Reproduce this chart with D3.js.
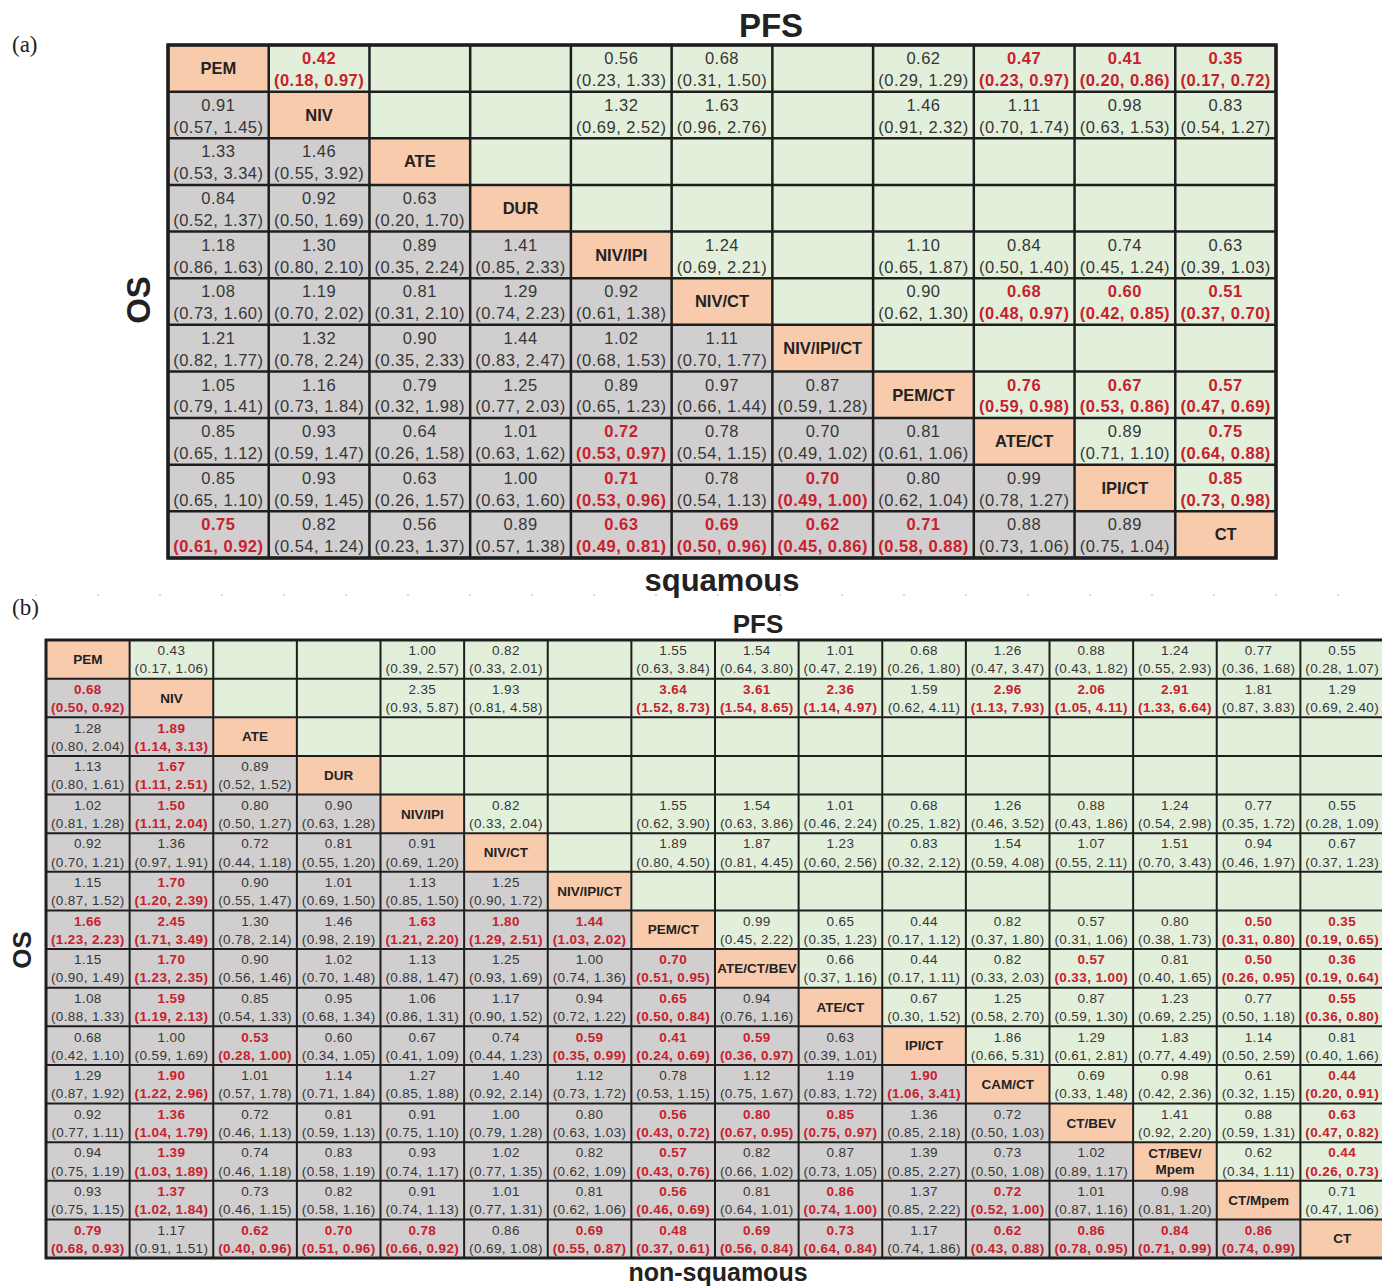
<!DOCTYPE html>
<html>
<head>
<meta charset="utf-8">
<script src="https://cdn.jsdelivr.net/npm/d3@7"></script>
<style>
body { margin: 0; background: #fff; }
svg text { font-family: "Liberation Sans", Arial, sans-serif; }
</style>
</head>
<body>
<div id="chart"></div>
<script>
// ---- panel (a): squamous ----
var treatA = ["PEM", "NIV", "ATE", "DUR", "NIV/IPI", "NIV/CT", "NIV/IPI/CT", "PEM/CT", "ATE/CT", "IPI/CT", "CT"];

// upper triangle, row i holds columns i+1 .. n-1  ([HR, low, high] or null)
var pfsA = [
  [[0.42,0.18,0.97], null, null, [0.56,0.23,1.33], [0.68,0.31,1.50], null, [0.62,0.29,1.29], [0.47,0.23,0.97], [0.41,0.20,0.86], [0.35,0.17,0.72]],
  [null, null, [1.32,0.69,2.52], [1.63,0.96,2.76], null, [1.46,0.91,2.32], [1.11,0.70,1.74], [0.98,0.63,1.53], [0.83,0.54,1.27]],
  [],
  [],
  [[1.24,0.69,2.21], null, [1.10,0.65,1.87], [0.84,0.50,1.40], [0.74,0.45,1.24], [0.63,0.39,1.03]],
  [null, [0.90,0.62,1.30], [0.68,0.48,0.97], [0.60,0.42,0.85], [0.51,0.37,0.70]],
  [],
  [[0.76,0.59,0.98], [0.67,0.53,0.86], [0.57,0.47,0.69]],
  [[0.89,0.71,1.10], [0.75,0.64,0.88]],
  [[0.85,0.73,0.98]]
];

// lower triangle, row i holds columns 0 .. i-1
var osA = [
  [],
  [[0.91,0.57,1.45]],
  [[1.33,0.53,3.34], [1.46,0.55,3.92]],
  [[0.84,0.52,1.37], [0.92,0.50,1.69], [0.63,0.20,1.70]],
  [[1.18,0.86,1.63], [1.30,0.80,2.10], [0.89,0.35,2.24], [1.41,0.85,2.33]],
  [[1.08,0.73,1.60], [1.19,0.70,2.02], [0.81,0.31,2.10], [1.29,0.74,2.23], [0.92,0.61,1.38]],
  [[1.21,0.82,1.77], [1.32,0.78,2.24], [0.90,0.35,2.33], [1.44,0.83,2.47], [1.02,0.68,1.53], [1.11,0.70,1.77]],
  [[1.05,0.79,1.41], [1.16,0.73,1.84], [0.79,0.32,1.98], [1.25,0.77,2.03], [0.89,0.65,1.23], [0.97,0.66,1.44], [0.87,0.59,1.28]],
  [[0.85,0.65,1.12], [0.93,0.59,1.47], [0.64,0.26,1.58], [1.01,0.63,1.62], [0.72,0.53,0.97], [0.78,0.54,1.15], [0.70,0.49,1.02], [0.81,0.61,1.06]],
  [[0.85,0.65,1.10], [0.93,0.59,1.45], [0.63,0.26,1.57], [1.00,0.63,1.60], [0.71,0.53,0.96], [0.78,0.54,1.13], [0.70,0.49,1.00], [0.80,0.62,1.04], [0.99,0.78,1.27]],
  [[0.75,0.61,0.92], [0.82,0.54,1.24], [0.56,0.23,1.37], [0.89,0.57,1.38], [0.63,0.49,0.81], [0.69,0.50,0.96], [0.62,0.45,0.86], [0.71,0.58,0.88], [0.88,0.73,1.06], [0.89,0.75,1.04]]
];

// ---- panel (b): non-squamous ----
var treatB = ["PEM", "NIV", "ATE", "DUR", "NIV/IPI", "NIV/CT", "NIV/IPI/CT", "PEM/CT", "ATE/CT/BEV", "ATE/CT", "IPI/CT", "CAM/CT", "CT/BEV", "CT/BEV/Mpem", "CT/Mpem", "CT"];

var pfsB = [
  [[0.43,0.17,1.06], null, null, [1.00,0.39,2.57], [0.82,0.33,2.01], null, [1.55,0.63,3.84], [1.54,0.64,3.80], [1.01,0.47,2.19], [0.68,0.26,1.80], [1.26,0.47,3.47], [0.88,0.43,1.82], [1.24,0.55,2.93], [0.77,0.36,1.68], [0.55,0.28,1.07]],
  [null, null, [2.35,0.93,5.87], [1.93,0.81,4.58], null, [3.64,1.52,8.73], [3.61,1.54,8.65], [2.36,1.14,4.97], [1.59,0.62,4.11], [2.96,1.13,7.93], [2.06,1.05,4.11], [2.91,1.33,6.64], [1.81,0.87,3.83], [1.29,0.69,2.40]],
  [],
  [],
  [[0.82,0.33,2.04], null, [1.55,0.62,3.90], [1.54,0.63,3.86], [1.01,0.46,2.24], [0.68,0.25,1.82], [1.26,0.46,3.52], [0.88,0.43,1.86], [1.24,0.54,2.98], [0.77,0.35,1.72], [0.55,0.28,1.09]],
  [null, [1.89,0.80,4.50], [1.87,0.81,4.45], [1.23,0.60,2.56], [0.83,0.32,2.12], [1.54,0.59,4.08], [1.07,0.55,2.11], [1.51,0.70,3.43], [0.94,0.46,1.97], [0.67,0.37,1.23]],
  [],
  [[0.99,0.45,2.22], [0.65,0.35,1.23], [0.44,0.17,1.12], [0.82,0.37,1.80], [0.57,0.31,1.06], [0.80,0.38,1.73], [0.50,0.31,0.80], [0.35,0.19,0.65]],
  [[0.66,0.37,1.16], [0.44,0.17,1.11], [0.82,0.33,2.03], [0.57,0.33,1.00], [0.81,0.40,1.65], [0.50,0.26,0.95], [0.36,0.19,0.64]],
  [[0.67,0.30,1.52], [1.25,0.58,2.70], [0.87,0.59,1.30], [1.23,0.69,2.25], [0.77,0.50,1.18], [0.55,0.36,0.80]],
  [[1.86,0.66,5.31], [1.29,0.61,2.81], [1.83,0.77,4.49], [1.14,0.50,2.59], [0.81,0.40,1.66]],
  [[0.69,0.33,1.48], [0.98,0.42,2.36], [0.61,0.32,1.15], [0.44,0.20,0.91]],
  [[1.41,0.92,2.20], [0.88,0.59,1.31], [0.63,0.47,0.82]],
  [[0.62,0.34,1.11], [0.44,0.26,0.73]],
  [[0.71,0.47,1.06]]
];

var osB = [
  [],
  [[0.68,0.50,0.92]],
  [[1.28,0.80,2.04], [1.89,1.14,3.13]],
  [[1.13,0.80,1.61], [1.67,1.11,2.51], [0.89,0.52,1.52]],
  [[1.02,0.81,1.28], [1.50,1.11,2.04], [0.80,0.50,1.27], [0.90,0.63,1.28]],
  [[0.92,0.70,1.21], [1.36,0.97,1.91], [0.72,0.44,1.18], [0.81,0.55,1.20], [0.91,0.69,1.20]],
  [[1.15,0.87,1.52], [1.70,1.20,2.39], [0.90,0.55,1.47], [1.01,0.69,1.50], [1.13,0.85,1.50], [1.25,0.90,1.72]],
  [[1.66,1.23,2.23], [2.45,1.71,3.49], [1.30,0.78,2.14], [1.46,0.98,2.19], [1.63,1.21,2.20], [1.80,1.29,2.51], [1.44,1.03,2.02]],
  [[1.15,0.90,1.49], [1.70,1.23,2.35], [0.90,0.56,1.46], [1.02,0.70,1.48], [1.13,0.88,1.47], [1.25,0.93,1.69], [1.00,0.74,1.36], [0.70,0.51,0.95]],
  [[1.08,0.88,1.33], [1.59,1.19,2.13], [0.85,0.54,1.33], [0.95,0.68,1.34], [1.06,0.86,1.31], [1.17,0.90,1.52], [0.94,0.72,1.22], [0.65,0.50,0.84], [0.94,0.76,1.16]],
  [[0.68,0.42,1.10], [1.00,0.59,1.69], [0.53,0.28,1.00], [0.60,0.34,1.05], [0.67,0.41,1.09], [0.74,0.44,1.23], [0.59,0.35,0.99], [0.41,0.24,0.69], [0.59,0.36,0.97], [0.63,0.39,1.01]],
  [[1.29,0.87,1.92], [1.90,1.22,2.96], [1.01,0.57,1.78], [1.14,0.71,1.84], [1.27,0.85,1.88], [1.40,0.92,2.14], [1.12,0.73,1.72], [0.78,0.53,1.15], [1.12,0.75,1.67], [1.19,0.83,1.72], [1.90,1.06,3.41]],
  [[0.92,0.77,1.11], [1.36,1.04,1.79], [0.72,0.46,1.13], [0.81,0.59,1.13], [0.91,0.75,1.10], [1.00,0.79,1.28], [0.80,0.63,1.03], [0.56,0.43,0.72], [0.80,0.67,0.95], [0.85,0.75,0.97], [1.36,0.85,2.18], [0.72,0.50,1.03]],
  [[0.94,0.75,1.19], [1.39,1.03,1.89], [0.74,0.46,1.18], [0.83,0.58,1.19], [0.93,0.74,1.17], [1.02,0.77,1.35], [0.82,0.62,1.09], [0.57,0.43,0.76], [0.82,0.66,1.02], [0.87,0.73,1.05], [1.39,0.85,2.27], [0.73,0.50,1.08], [1.02,0.89,1.17]],
  [[0.93,0.75,1.15], [1.37,1.02,1.84], [0.73,0.46,1.15], [0.82,0.58,1.16], [0.91,0.74,1.13], [1.01,0.77,1.31], [0.81,0.62,1.06], [0.56,0.46,0.69], [0.81,0.64,1.01], [0.86,0.74,1.00], [1.37,0.85,2.22], [0.72,0.52,1.00], [1.01,0.87,1.16], [0.98,0.81,1.20]],
  [[0.79,0.68,0.93], [1.17,0.91,1.51], [0.62,0.40,0.96], [0.70,0.51,0.96], [0.78,0.66,0.92], [0.86,0.69,1.08], [0.69,0.55,0.87], [0.48,0.37,0.61], [0.69,0.56,0.84], [0.73,0.64,0.84], [1.17,0.74,1.86], [0.62,0.43,0.88], [0.86,0.78,0.95], [0.84,0.71,0.99], [0.86,0.74,0.99]]
];

var W = 1382, H = 1288;
var fmt = d3.format(".2f");
var fills = { diag: "#f8cbad", pfs: "#e2efda", os: "#d0cece" };
var red = "#c8202c", grey = "#363636";

var svg = d3.select("#chart").append("svg")
    .attr("width", W)
    .attr("height", H);

function drawTable(cfg) {
    var n = cfg.treat.length;
    var x = d3.scaleBand().domain(d3.range(n)).range([cfg.x0, cfg.x1]);
    var y = d3.scaleBand().domain(d3.range(n)).range([cfg.y0, cfg.y1]);

    var cells = [];
    for (var i = 0; i < n; i++) {
        for (var j = 0; j < n; j++) {
            var c = { r: i, c: j, v: null };
            if (i === j) { c.type = "diag"; c.label = cfg.treat[i]; }
            else if (j > i) { c.type = "pfs"; c.v = (cfg.pfs[i] || [])[j - i - 1] || null; }
            else { c.type = "os"; c.v = (cfg.os[i] || [])[j] || null; }
            cells.push(c);
        }
    }

    var g = svg.append("g");
    g.selectAll("rect.cell").data(cells).join("rect")
        .attr("class", "cell")
        .attr("x", d => x(d.c))
        .attr("y", d => y(d.r))
        .attr("width", x.bandwidth())
        .attr("height", y.bandwidth())
        .attr("fill", d => fills[d.type]);

    // grid
    var bounds = d3.range(n + 1);
    g.selectAll("line.v").data(bounds).join("line")
        .attr("x1", d => cfg.x0 + d * x.step()).attr("x2", d => cfg.x0 + d * x.step())
        .attr("y1", cfg.y0).attr("y2", cfg.y1)
        .attr("stroke", "#1e1e1e").attr("stroke-width", cfg.sw);
    g.selectAll("line.h").data(bounds).join("line")
        .attr("y1", d => cfg.y0 + d * y.step()).attr("y2", d => cfg.y0 + d * y.step())
        .attr("x1", cfg.x0).attr("x2", cfg.x1)
        .attr("stroke", "#1e1e1e").attr("stroke-width", cfg.sw);
    g.append("rect")
        .attr("x", cfg.x0).attr("y", cfg.y0)
        .attr("width", cfg.x1 - cfg.x0).attr("height", cfg.y1 - cfg.y0)
        .attr("fill", "none").attr("stroke", "#1e1e1e").attr("stroke-width", cfg.sw + 1);

    // values
    var vals = cells.filter(d => d.v);
    var sig = d => d.v[2] <= 1 || d.v[1] > 1;
    var txt = g.selectAll("g.val").data(vals).join("g")
        .attr("class", "val")
        .attr("fill", d => sig(d) ? red : grey)
        .attr("font-weight", d => sig(d) ? "bold" : "normal")
        .attr("font-size", cfg.fs)
        .attr("letter-spacing", cfg.ls)
        .attr("text-anchor", "middle");
    txt.append("text")
        .attr("x", d => x(d.c) + x.bandwidth() / 2)
        .attr("y", d => y(d.r) + y.bandwidth() * 0.28)
        .attr("dominant-baseline", "central")
        .text(d => fmt(d.v[0]));
    txt.append("text")
        .attr("x", d => x(d.c) + x.bandwidth() / 2)
        .attr("y", d => y(d.r) + y.bandwidth() * 0.75)
        .attr("dominant-baseline", "central")
        .text(d => "(" + fmt(d.v[1]) + ", " + fmt(d.v[2]) + ")");

    // treatment names on the diagonal
    var diag = g.selectAll("text.diag").data(cells.filter(d => d.type === "diag")).join("text")
        .attr("class", "diag")
        .attr("x", d => x(d.c) + x.bandwidth() / 2)
        .attr("y", d => y(d.r) + y.bandwidth() / 2)
        .attr("text-anchor", "middle")
        .attr("font-size", cfg.dfs)
        .attr("font-weight", "bold")
        .attr("fill", "#222");
    diag.each(function(d) {
        var el = d3.select(this);
        var cut = d.label.lastIndexOf("/") + 1;
        var lines = d.label.length > 10 ? [d.label.slice(0, cut), d.label.slice(cut)] : [d.label];
        lines.forEach(function(t, k) {
            el.append("tspan")
                .attr("x", x(d.c) + x.bandwidth() / 2)
                .attr("dy", k === 0 ? (lines.length === 1 ? "0.35em" : "-0.25em") : "1.2em")
                .text(t);
        });
    });

    // titles
    svg.append("text").attr("x", cfg.pfsX).attr("y", cfg.pfsY)
        .attr("text-anchor", "middle").attr("font-weight", "bold")
        .attr("font-size", cfg.tfs).attr("fill", "#222").text("PFS");
    svg.append("text")
        .attr("transform", "translate(" + cfg.osX + "," + cfg.osY + ") rotate(-90)")
        .attr("text-anchor", "middle").attr("dominant-baseline", "central")
        .attr("font-weight", "bold").attr("font-size", cfg.tfs).attr("fill", "#222").text("OS");
    svg.append("text").attr("x", cfg.subX).attr("y", cfg.subY)
        .attr("text-anchor", "middle").attr("font-weight", "bold")
        .attr("font-size", cfg.sfs).attr("fill", "#222").text(cfg.sub);
    svg.append("text").attr("x", 12).attr("y", cfg.tagY)
        .style("font-family", "'Liberation Serif', 'Times New Roman', serif")
        .attr("font-size", 23).attr("fill", "#222").text(cfg.tag);
}

drawTable({
    treat: treatA, pfs: pfsA, os: osA,
    x0: 168, x1: 1276, y0: 45, y1: 558,
    sw: 2.5, fs: 16.5, ls: 0.5, dfs: 16.5,
    tfs: 33, sfs: 31,
    pfsX: 771, pfsY: 37, osX: 138, osY: 300,
    sub: "squamous", subX: 722, subY: 591,
    tag: "(a)", tagY: 52
});

// faint dotted rule between the panels
svg.append("line")
    .attr("x1", 35).attr("x2", W).attr("y1", 595).attr("y2", 595)
    .attr("stroke", "#d8d8d8").attr("stroke-width", 2)
    .attr("stroke-dasharray", "2,60");

drawTable({
    treat: treatB, pfs: pfsB, os: osB,
    x0: 46, x1: 1384, y0: 640, y1: 1258,
    sw: 2, fs: 13.5, ls: 0.4, dfs: 13.5,
    tfs: 26, sfs: 25,
    pfsX: 758, pfsY: 633, osX: 22, osY: 950,
    sub: "non-squamous", subX: 718, subY: 1281,
    tag: "(b)", tagY: 615
});
</script>
</body>
</html>
